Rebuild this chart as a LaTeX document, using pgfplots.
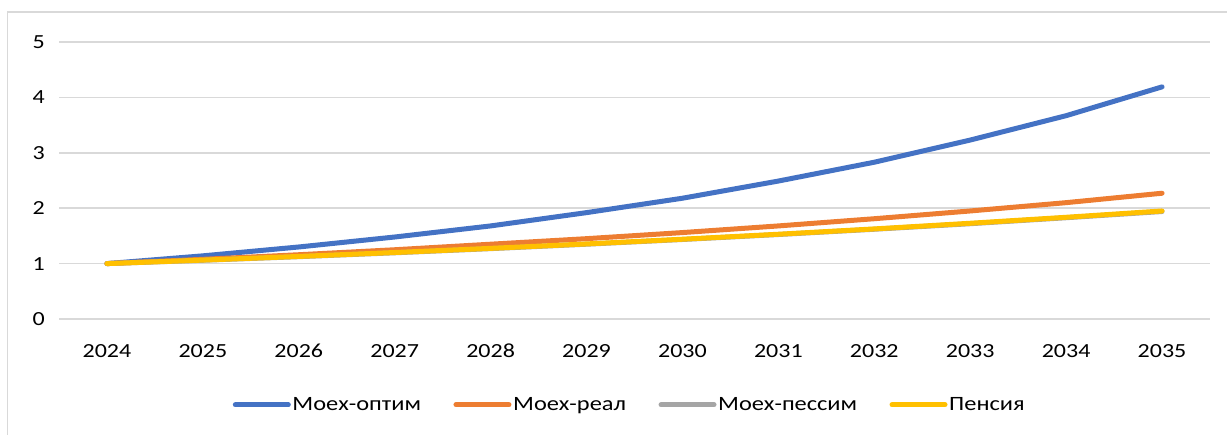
\documentclass[border=0pt]{standalone}
\usepackage{fontspec}
\setmainfont{Carlito}[FakeStretch=1.2]
\usepackage{pgfplots}
\pgfplotsset{compat=1.18}
\definecolor{cblue}{HTML}{4472C4}
\definecolor{corange}{HTML}{ED7D31}
\definecolor{cgray}{HTML}{A5A5A5}
\definecolor{cyellow}{HTML}{FFC000}
\definecolor{cgrid}{HTML}{D9D9D9}
\begin{document}
\begin{tikzpicture}
\useasboundingbox (0,0) rectangle (736.2pt,-261pt);
\draw[cgrid, line width=0.9pt] (4.5pt,-262pt) -- (4.5pt,-7.2pt) -- (740pt,-7.2pt);
\begin{axis}[
  at={(35.4pt,-191.4pt)}, anchor=south west,
  scale only axis, width=690.6pt, height=166.2pt,
  xmin=-0.5, xmax=11.5, ymin=0, ymax=5,
  xtick={0,...,11},
  xticklabels={2024,2025,2026,2027,2028,2029,2030,2031,2032,2033,2034,2035},
  ytick={0,1,2,3,4,5},
  ymajorgrids, grid style={cgrid, line width=0.9pt},
  axis line style={draw=none},
  major tick length=0pt,
  tick label style={font=\fontsize{12}{14}\selectfont, inner sep=0pt},
  /pgf/number format/assume math mode=true,
  xticklabel style={anchor=base, yshift=-23.4pt},
  yticklabel style={anchor=east, xshift=-8.4pt},
  clip=false,
  legend style={at={(0.4957,-0.31)}, anchor=center, draw=none, fill=none,
    font=\fontsize{12.2}{14}\selectfont, inner sep=0pt,
    nodes={inner sep=1pt},
    legend columns=4,
    /tikz/every even column/.append style={column sep=18.5pt}},
  legend image code/.code={\draw[#1, line cap=round] (0pt,0pt) -- (31.8pt,0pt);},
  every axis plot/.append style={line width=3pt, line cap=round, line join=round},
]
\addplot[cblue] coordinates {(0,1) (1,1.14) (2,1.30) (3,1.48) (4,1.68) (5,1.92) (6,2.18) (7,2.49) (8,2.83) (9,3.23) (10,3.67) (11,4.19)};
\addlegendentry{Моех-оптим}
\addplot[corange] coordinates {(0,1) (1,1.077) (2,1.16) (3,1.25) (4,1.35) (5,1.45) (6,1.56) (7,1.68) (8,1.81) (9,1.95) (10,2.10) (11,2.27)};
\addlegendentry{Моех-реал}
\addplot[cgray] coordinates {(0,1) (1,1.06) (2,1.125) (3,1.195) (4,1.27) (5,1.35) (6,1.435) (7,1.525) (8,1.62) (9,1.72) (10,1.828) (11,1.94)};
\addlegendentry{Моех-пессим}
\addplot[cyellow] coordinates {(0,1) (1,1.063) (2,1.129) (3,1.20) (4,1.275) (5,1.355) (6,1.44) (7,1.53) (8,1.626) (9,1.728) (10,1.836) (11,1.95)};
\addlegendentry{Пенсия}
\end{axis}
\end{tikzpicture}
\end{document}
